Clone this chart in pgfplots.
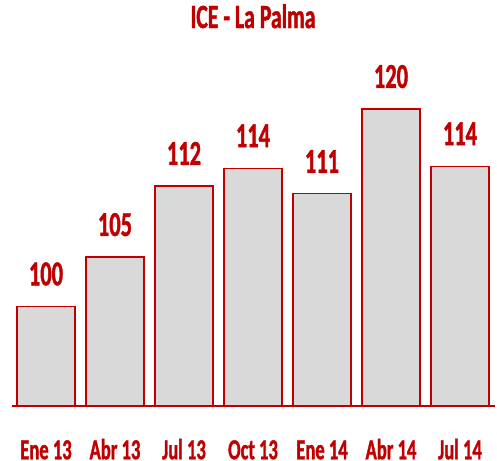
\documentclass[border=0pt]{standalone}
\usepackage{pgfplots}
\pgfplotsset{compat=1.18}
\usepackage{fontspec}
\setmainfont{Carlito}
\newfontfamily\cfont{Carlito}[FakeStretch=0.64, BoldFeatures={FakeBold=1.2}]
\definecolor{dred}{HTML}{C00000}
\definecolor{bgray}{HTML}{D9D9D9}
\begin{document}
\begin{tikzpicture}
\begin{axis}[
  scale only axis,
  width=483bp, height=348bp,
  xmin=-0.5, xmax=6.5,
  ymin=89.9, ymax=125.16,
  axis y line=none,
  axis x line*=bottom,
  x axis line style={dred, line width=1.5bp},
  xtick={0,...,6},
  xticklabels={Ene 13,Abr 13,Jul 13,Oct 13,Ene 14,Abr 14,Jul 14},
  xtick style={draw=none},
  xticklabel style={anchor=base, inner sep=0pt, yshift=-49bp, text=dred, font=\cfont\bfseries\fontsize{29bp}{29bp}\selectfont},
  ybar, bar width=58bp,
  point meta=explicit symbolic,
  nodes near coords,
  every node near coord/.append style={anchor=base, inner sep=0pt, yshift=21bp, text=dred, font=\cfont\bfseries\fontsize{35bp}{35bp}\selectfont},
  title={ICE - La Palma},
  title style={at={(0.5,1)}, anchor=base, inner sep=0pt, yshift=24bp, text=dred, font=\cfont\bfseries\fontsize{34bp}{34bp}\selectfont},
]
\addplot[fill=bgray, draw=dred, line width=1.2bp] table[meta=lab] {
x y lab
0 100 100
1 105 105
2 112.2 112
3 114 114
4 111.4 111
5 120 120
6 114.2 114
};
\end{axis}
\path (current axis.south west) ++(-11.5bp,-55bp) rectangle ++(497bp,461bp);
\end{tikzpicture}
\end{document}
